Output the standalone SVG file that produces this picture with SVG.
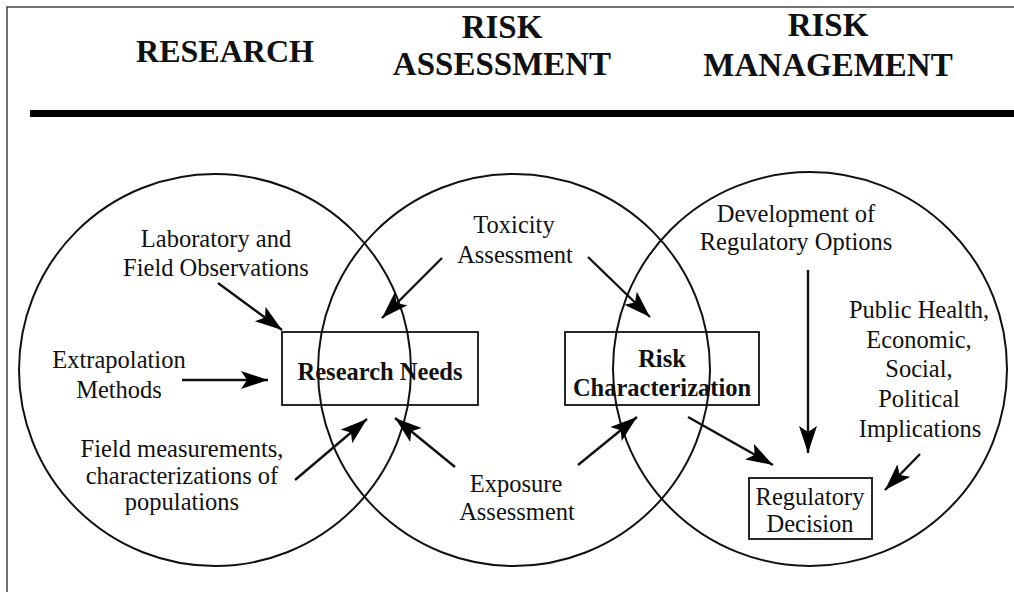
<svg xmlns="http://www.w3.org/2000/svg" width="1014" height="592" viewBox="0 0 1014 592">
<defs>
<marker id="ah" markerUnits="userSpaceOnUse" markerWidth="30" markerHeight="20" refX="27" refY="9" orient="auto">
<path d="M0,0 L27,9 L0,18 L6,9 Z" fill="#000"/>
</marker>
<style>
text{font-family:'Liberation Serif','Times New Roman',Times,serif;fill:#111;text-anchor:middle}
.hd{font-weight:bold;font-size:33px}
.t{font-size:24.5px}
.b{font-weight:bold;font-size:24.5px}
.c{fill:none;stroke:#111;stroke-width:2}
.bx{fill:none;stroke:#111;stroke-width:1.8}
.a{stroke:#111;stroke-width:2.4;fill:none;marker-end:url(#ah)}
</style>
</defs>
<rect width="1014" height="592" fill="#fff"/>
<path d="M7,592 V7 H1014" fill="none" stroke="#444" stroke-width="1.5"/>
<line x1="30" y1="113.5" x2="1014" y2="113.5" stroke="#000" stroke-width="7"/>
<g id="headers">
<text class="hd" x="225" y="62" style="font-size:32px">RESEARCH</text>
<text class="hd" x="502" y="38">RISK</text>
<text class="hd" x="502" y="75">ASSESSMENT</text>
<text class="hd" x="828" y="36">RISK</text>
<text class="hd" x="828" y="76">MANAGEMENT</text>
</g>
<g id="circles">
<circle id="c-research" class="c" cx="215" cy="370" r="196"/>
<circle id="c-assessment" class="c" cx="514" cy="370" r="196"/>
<circle id="c-management" class="c" cx="810" cy="369" r="197"/>
</g>
<g id="research-needs">
<rect class="bx" x="282" y="332" width="196" height="73"/>
<text class="b" x="380" y="380">Research Needs</text>
</g>
<g id="risk-characterization">
<rect class="bx" x="565" y="332" width="194" height="73"/>
<text class="b" x="662" y="367">Risk</text>
<text class="b" x="662" y="396">Characterization</text>
</g>
<g id="regulatory-decision">
<rect class="bx" x="749" y="478" width="123" height="61"/>
<text class="t" x="810" y="505">Regulatory</text>
<text class="t" x="810" y="532">Decision</text>
</g>
<g id="lab-field">
<text class="t" x="216" y="247">Laboratory and</text>
<text class="t" x="216" y="276">Field Observations</text>
</g>
<g id="extrapolation">
<text class="t" x="119" y="368">Extrapolation</text>
<text class="t" x="119" y="398">Methods</text>
</g>
<g id="field-measurements">
<text class="t" x="182" y="457">Field measurements,</text>
<text class="t" x="182" y="484">characterizations of</text>
<text class="t" x="182" y="510">populations</text>
</g>
<g id="toxicity">
<text class="t" x="514" y="233">Toxicity</text>
<text class="t" x="515" y="263">Assessment</text>
</g>
<g id="exposure">
<text class="t" x="516" y="492">Exposure</text>
<text class="t" x="517" y="520">Assessment</text>
</g>
<g id="development">
<text class="t" x="796" y="222">Development of</text>
<text class="t" x="796" y="250">Regulatory Options</text>
</g>
<g id="implications">
<text class="t" x="919" y="318">Public Health,</text>
<text class="t" x="919" y="348">Economic,</text>
<text class="t" x="919" y="377">Social,</text>
<text class="t" x="919" y="407">Political</text>
<text class="t" x="920" y="437">Implications</text>
</g>
<g id="connectors">
<line class="a" x1="218" y1="283" x2="282" y2="330"/>
<line class="a" x1="182" y1="380" x2="268" y2="380"/>
<line class="a" x1="295" y1="480" x2="367" y2="419"/>
<line class="a" x1="442" y1="258" x2="382" y2="318"/>
<line class="a" x1="588" y1="257" x2="650" y2="317"/>
<line class="a" x1="455" y1="467" x2="395" y2="418"/>
<line class="a" x1="578" y1="465" x2="637" y2="417"/>
<line class="a" x1="688" y1="417" x2="773" y2="465"/>
<line class="a" x1="808" y1="270" x2="808" y2="453"/>
<line class="a" x1="920" y1="454" x2="885" y2="490"/>
</g>
</svg>
